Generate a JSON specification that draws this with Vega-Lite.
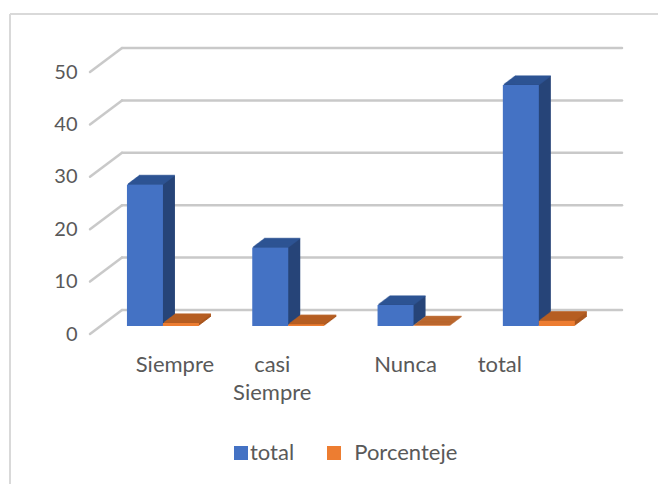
{"$schema":"https://vega.github.io/schema/vega-lite/v6.json","width":648,"height":470,"autosize":"none","padding":{"left":10,"top":14,"right":0,"bottom":0},"background":"white","view":{"stroke":null},
"data":{"values":[{"categoria":"Siempre","serie":"total","valor":27},{"categoria":"casi Siempre","serie":"total","valor":15},{"categoria":"Nunca","serie":"total","valor":4},{"categoria":"total","serie":"total","valor":46},{"categoria":"Siempre","serie":"Porcenteje","valor":0.59},{"categoria":"casi Siempre","serie":"Porcenteje","valor":0.33},{"categoria":"Nunca","serie":"Porcenteje","valor":0.09},{"categoria":"total","serie":"Porcenteje","valor":1}]},
"encoding":{"x":{"field":"categoria","type":"nominal","sort":null,"scale":{"type":"band","domain":["Siempre","casi Siempre","Nunca","total"],"range":[90.3,591.5],"paddingInner":0,"paddingOuter":0},"axis":null},
"y":{"field":"valor","type":"quantitative","scale":{"domain":[0,50],"range":[312,50],"nice":false,"zero":true},"axis":{"title":null,"orient":"left","offset":-67,"domain":false,"ticks":false,"grid":false,"labelPadding":0,"labelOffset":8,"labelFont":"Lato","labelFontSize":20,"labelColor":"#595959","values":[0,10,20,30,40,50]}}},
"layer":[
{"data":{"values":[{"borde":"marco"}]},"layer":[
{"mark":{"type":"rule","color":"#D9D9D9","strokeWidth":2},"encoding":{"x":{"value":0},"y":{"value":0},"y2":{"value":470}}},
{"mark":{"type":"rule","color":"#D9D9D9","strokeWidth":2},"encoding":{"x":{"value":0},"x2":{"value":648},"y":{"value":0}}}]},
{"data":{"values":[{"valor":0},{"valor":10},{"valor":20},{"valor":30},{"valor":40},{"valor":50}]},"layer":[
{"mark":{"type":"rule","color":"#C9C9C9","strokeWidth":2.5,"strokeCap":"round","yOffset":-16},"encoding":{"x":{"value":112},"x2":{"value":612}}},
{"mark":{"type":"rule","color":"#C9C9C9","strokeWidth":2.5,"strokeCap":"round","yOffset":8,"y2Offset":-16},"encoding":{"x":{"value":80},"x2":{"value":112},"y2":{"field":"valor"}}}]},
{"transform":[{"filter":"datum.serie=='total'"}],"layer":[
{"mark":{"type":"bar","size":36,"color":"#264478","xOffset":-17,"yOffset":-0.75,"y2Offset":-0.75}},
{"mark":{"type":"bar","size":36,"color":"#264478","xOffset":-16,"yOffset":-1.5,"y2Offset":-1.5}},
{"mark":{"type":"bar","size":36,"color":"#264478","xOffset":-15,"yOffset":-2.25,"y2Offset":-2.25}},
{"mark":{"type":"bar","size":36,"color":"#264478","xOffset":-14,"yOffset":-3,"y2Offset":-3}},
{"mark":{"type":"bar","size":36,"color":"#264478","xOffset":-13,"yOffset":-3.75,"y2Offset":-3.75}},
{"mark":{"type":"bar","size":36,"color":"#264478","xOffset":-12,"yOffset":-4.5,"y2Offset":-4.5}},
{"mark":{"type":"bar","size":36,"color":"#264478","xOffset":-11,"yOffset":-5.25,"y2Offset":-5.25}},
{"mark":{"type":"bar","size":36,"color":"#264478","xOffset":-10,"yOffset":-6,"y2Offset":-6}},
{"mark":{"type":"bar","size":36,"color":"#264478","xOffset":-9,"yOffset":-6.75,"y2Offset":-6.75}},
{"mark":{"type":"bar","size":36,"color":"#264478","xOffset":-8,"yOffset":-7.5,"y2Offset":-7.5}},
{"mark":{"type":"bar","size":36,"color":"#264478","xOffset":-7,"yOffset":-8.25,"y2Offset":-8.25}},
{"mark":{"type":"bar","size":36,"color":"#264478","xOffset":-6,"yOffset":-9,"y2Offset":-9}},
{"mark":{"type":"tick","orient":"horizontal","size":36,"thickness":1.5,"color":"#2F5597","xOffset":-17,"yOffset":-0.75}},
{"mark":{"type":"tick","orient":"horizontal","size":36,"thickness":1.5,"color":"#2F5597","xOffset":-16,"yOffset":-1.5}},
{"mark":{"type":"tick","orient":"horizontal","size":36,"thickness":1.5,"color":"#2F5597","xOffset":-15,"yOffset":-2.25}},
{"mark":{"type":"tick","orient":"horizontal","size":36,"thickness":1.5,"color":"#2F5597","xOffset":-14,"yOffset":-3}},
{"mark":{"type":"tick","orient":"horizontal","size":36,"thickness":1.5,"color":"#2F5597","xOffset":-13,"yOffset":-3.75}},
{"mark":{"type":"tick","orient":"horizontal","size":36,"thickness":1.5,"color":"#2F5597","xOffset":-12,"yOffset":-4.5}},
{"mark":{"type":"tick","orient":"horizontal","size":36,"thickness":1.5,"color":"#2F5597","xOffset":-11,"yOffset":-5.25}},
{"mark":{"type":"tick","orient":"horizontal","size":36,"thickness":1.5,"color":"#2F5597","xOffset":-10,"yOffset":-6}},
{"mark":{"type":"tick","orient":"horizontal","size":36,"thickness":1.5,"color":"#2F5597","xOffset":-9,"yOffset":-6.75}},
{"mark":{"type":"tick","orient":"horizontal","size":36,"thickness":1.5,"color":"#2F5597","xOffset":-8,"yOffset":-7.5}},
{"mark":{"type":"tick","orient":"horizontal","size":36,"thickness":1.5,"color":"#2F5597","xOffset":-7,"yOffset":-8.25}},
{"mark":{"type":"tick","orient":"horizontal","size":36,"thickness":1.5,"color":"#2F5597","xOffset":-6,"yOffset":-9}},
{"mark":{"type":"bar","size":36,"xOffset":-18},"encoding":{"color":{"field":"serie","type":"nominal","scale":{"domain":["total","Porcenteje"],"range":["#4472C4","#ED7D31"]},"legend":{"title":null,"orient":"none","legendX":220,"legendY":428,"direction":"horizontal","columns":2,"columnPadding":28,"symbolType":"square","symbolSize":196,"symbolStrokeWidth":0,"labelOffset":-2,"labelFont":"Lato","labelFontSize":22,"labelColor":"#595959","labelLimit":200,"labelExpr":"datum.label=='Porcenteje'?'\u200b\u00a0\u00a0'+datum.label:datum.label"}}}}]},
{"transform":[{"filter":"datum.serie=='Porcenteje'"}],"layer":[
{"mark":{"type":"bar","size":36,"color":"#A9561E","xOffset":19,"yOffset":-0.75,"y2Offset":-0.75}},
{"mark":{"type":"bar","size":36,"color":"#A9561E","xOffset":20,"yOffset":-1.5,"y2Offset":-1.5}},
{"mark":{"type":"bar","size":36,"color":"#A9561E","xOffset":21,"yOffset":-2.25,"y2Offset":-2.25}},
{"mark":{"type":"bar","size":36,"color":"#A9561E","xOffset":22,"yOffset":-3,"y2Offset":-3}},
{"mark":{"type":"bar","size":36,"color":"#A9561E","xOffset":23,"yOffset":-3.75,"y2Offset":-3.75}},
{"mark":{"type":"bar","size":36,"color":"#A9561E","xOffset":24,"yOffset":-4.5,"y2Offset":-4.5}},
{"mark":{"type":"bar","size":36,"color":"#A9561E","xOffset":25,"yOffset":-5.25,"y2Offset":-5.25}},
{"mark":{"type":"bar","size":36,"color":"#A9561E","xOffset":26,"yOffset":-6,"y2Offset":-6}},
{"mark":{"type":"bar","size":36,"color":"#A9561E","xOffset":27,"yOffset":-6.75,"y2Offset":-6.75}},
{"mark":{"type":"bar","size":36,"color":"#A9561E","xOffset":28,"yOffset":-7.5,"y2Offset":-7.5}},
{"mark":{"type":"bar","size":36,"color":"#A9561E","xOffset":29,"yOffset":-8.25,"y2Offset":-8.25}},
{"mark":{"type":"bar","size":36,"color":"#A9561E","xOffset":30,"yOffset":-9,"y2Offset":-9}},
{"mark":{"type":"tick","orient":"horizontal","size":36,"thickness":1.5,"color":"#B85F24","xOffset":19,"yOffset":-0.75}},
{"mark":{"type":"tick","orient":"horizontal","size":36,"thickness":1.5,"color":"#B85F24","xOffset":20,"yOffset":-1.5}},
{"mark":{"type":"tick","orient":"horizontal","size":36,"thickness":1.5,"color":"#B85F24","xOffset":21,"yOffset":-2.25}},
{"mark":{"type":"tick","orient":"horizontal","size":36,"thickness":1.5,"color":"#B85F24","xOffset":22,"yOffset":-3}},
{"mark":{"type":"tick","orient":"horizontal","size":36,"thickness":1.5,"color":"#B85F24","xOffset":23,"yOffset":-3.75}},
{"mark":{"type":"tick","orient":"horizontal","size":36,"thickness":1.5,"color":"#B85F24","xOffset":24,"yOffset":-4.5}},
{"mark":{"type":"tick","orient":"horizontal","size":36,"thickness":1.5,"color":"#B85F24","xOffset":25,"yOffset":-5.25}},
{"mark":{"type":"tick","orient":"horizontal","size":36,"thickness":1.5,"color":"#B85F24","xOffset":26,"yOffset":-6}},
{"mark":{"type":"tick","orient":"horizontal","size":36,"thickness":1.5,"color":"#B85F24","xOffset":27,"yOffset":-6.75}},
{"mark":{"type":"tick","orient":"horizontal","size":36,"thickness":1.5,"color":"#B85F24","xOffset":28,"yOffset":-7.5}},
{"mark":{"type":"tick","orient":"horizontal","size":36,"thickness":1.5,"color":"#B85F24","xOffset":29,"yOffset":-8.25}},
{"mark":{"type":"tick","orient":"horizontal","size":36,"thickness":1.5,"color":"#B85F24","xOffset":30,"yOffset":-9}},
{"mark":{"type":"bar","size":36,"xOffset":18},"encoding":{"color":{"field":"serie","type":"nominal","scale":{"domain":["total","Porcenteje"],"range":["#4472C4","#ED7D31"]}}}}]},
{"transform":[{"filter":"datum.serie=='total' && datum.categoria=='Siempre'"}],"mark":{"type":"text","font":"Lato","fontSize":22,"color":"#595959","baseline":"middle","align":"center","lineBreak":" ","lineHeight":28,"dx":12,"dy":39},"encoding":{"text":{"field":"categoria"},"y":{"datum":0}}},
{"transform":[{"filter":"datum.serie=='total' && datum.categoria=='casi Siempre'"}],"mark":{"type":"text","font":"Lato","fontSize":22,"color":"#595959","baseline":"top","align":"center","lineBreak":" ","lineHeight":28,"dx":-16,"dy":29},"encoding":{"text":{"field":"categoria"},"y":{"datum":0}}},
{"transform":[{"filter":"datum.serie=='total' && datum.categoria=='Nunca'"}],"mark":{"type":"text","font":"Lato","fontSize":22,"color":"#595959","baseline":"middle","align":"center","lineBreak":" ","lineHeight":28,"dx":-8,"dy":39},"encoding":{"text":{"field":"categoria"},"y":{"datum":0}}},
{"transform":[{"filter":"datum.serie=='total' && datum.categoria=='total'"}],"mark":{"type":"text","font":"Lato","fontSize":22,"color":"#595959","baseline":"middle","align":"center","lineBreak":" ","lineHeight":28,"dx":-39,"dy":39},"encoding":{"text":{"field":"categoria"},"y":{"datum":0}}}
]}
